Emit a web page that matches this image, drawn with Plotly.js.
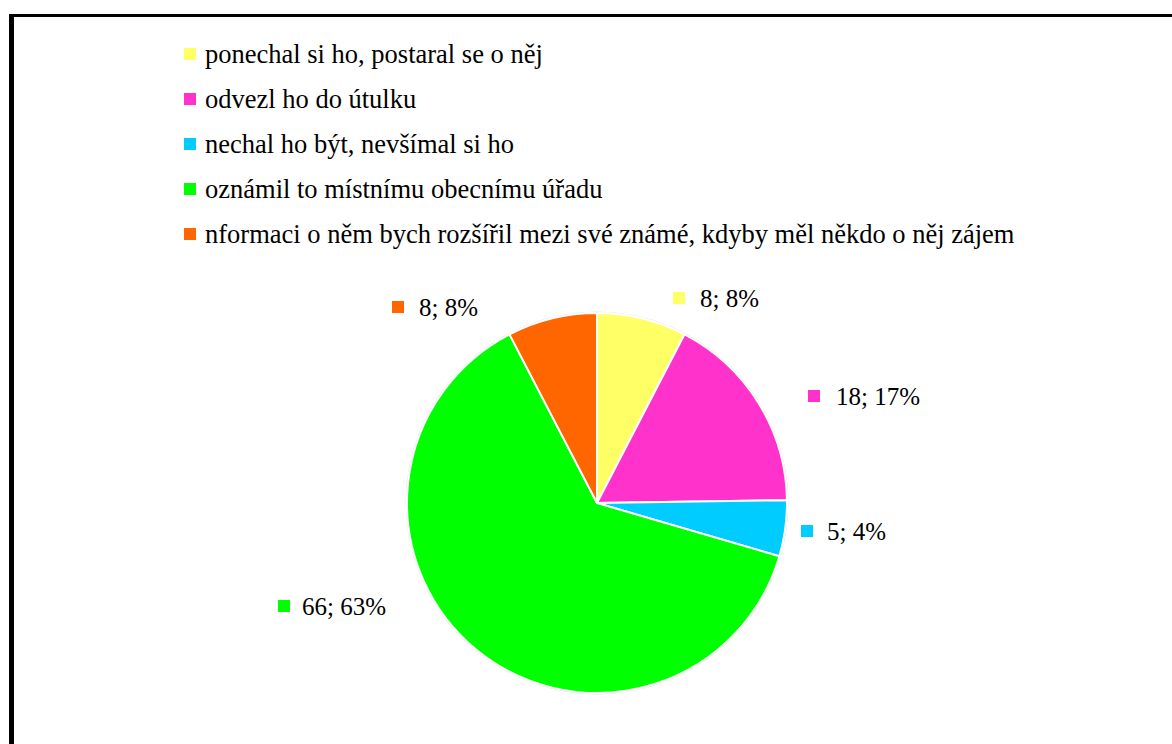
<!DOCTYPE html>
<html>
<head>
<meta charset="utf-8">
<script src="https://cdn.plot.ly/plotly-3.0.1.min.js"></script>
<style>html,body{margin:0;padding:0;background:#fff;overflow:hidden}#chart{width:1172px;height:744px}</style>
</head>
<body>
<div id="chart"></div>
<script>
// Data
const categories = [
  "ponechal si ho, postaral se o něj",
  "odvezl ho do útulku",
  "nechal ho být, nevšímal si ho",
  "oznámil to místnímu obecnímu úřadu",
  "nformaci o něm bych rozšířil mezi své známé, kdyby měl někdo o něj zájem"
];
const values = [8, 18, 5, 66, 8];
const percentLabels = ["8%", "17%", "4%", "63%", "8%"];
const colors = ["#FFFF66", "#FF33CC", "#00CCFF", "#00FF00", "#FF6600"];

// Layout helpers (pixel -> paper)
const W = 1172, H = 744;
const px = x => x / W;
const py = y => 1 - y / H;

// Style/position constants
const FONT = "Liberation Serif";
const legendX = 184, legendTextX = 203, legendY0 = 54, legendStep = 45, sq = 12;
const labelPos = [
  {sx: 673, tx: 698, y: 298},
  {sx: 808, tx: 834, y: 396},
  {sx: 801, tx: 825, y: 531},
  {sx: 278, tx: 300, y: 606},
  {sx: 392, tx: 417, y: 307}
];

const shapes = [];
const annotations = [];

// border
shapes.push({type: "rect", xref: "paper", yref: "paper", x0: px(9), x1: px(14), y0: py(H + 5), y1: py(14), fillcolor: "#000", line: {width: 0}, layer: "above"});
shapes.push({type: "rect", xref: "paper", yref: "paper", x0: px(9), x1: px(W + 5), y0: py(17), y1: py(14), fillcolor: "#000", line: {width: 0}, layer: "above"});

// legend
categories.forEach((c, i) => {
  const cy = legendY0 + i * legendStep;
  shapes.push({type: "rect", xref: "paper", yref: "paper",
    x0: px(legendX), x1: px(legendX + sq), y0: py(cy + sq / 2), y1: py(cy - sq / 2),
    fillcolor: colors[i], line: {width: 0}});
  annotations.push({xref: "paper", yref: "paper", x: px(legendTextX), y: py(cy),
    xanchor: "left", yanchor: "middle", showarrow: false, text: c,
    font: {family: FONT, size: 26.5, color: "#000"}});
});

// data labels
values.forEach((v, i) => {
  const p = labelPos[i];
  shapes.push({type: "rect", xref: "paper", yref: "paper",
    x0: px(p.sx), x1: px(p.sx + sq), y0: py(p.y + sq / 2), y1: py(p.y - sq / 2),
    fillcolor: colors[i], line: {width: 0}});
  annotations.push({xref: "paper", yref: "paper", x: px(p.tx), y: py(p.y),
    xanchor: "left", yanchor: "middle", showarrow: false,
    text: v + "; " + percentLabels[i],
    font: {family: FONT, size: 25, color: "#000"}});
});

const cx = 597, cyc = 503, R = 190;
// faint outer edge like the reference
shapes.push({type: "circle", xref: "paper", yref: "paper",
  x0: px(cx - R - 1), x1: px(cx + R + 1), y0: py(cyc + R + 1), y1: py(cyc - R - 1),
  line: {color: "#e4e4e4", width: 1}, fillcolor: "rgba(0,0,0,0)", layer: "below"});

const trace = {
  type: "pie",
  labels: categories,
  values: values,
  sort: false,
  direction: "clockwise",
  rotation: 0,
  marker: {colors: colors, line: {color: "#ffffff", width: 2}},
  textinfo: "none",
  hoverinfo: "label+value+percent",
  showlegend: false,
  domain: {x: [px(cx - R), px(cx + R)], y: [py(cyc + R), py(cyc - R)]}
};

const layout = {
  width: W, height: H,
  margin: {l: 0, r: 0, t: 0, b: 0},
  paper_bgcolor: "#fff",
  font: {family: FONT},
  showlegend: false,
  shapes: shapes,
  annotations: annotations
};

Plotly.newPlot("chart", [trace], layout, {displayModeBar: false, staticPlot: true});
</script>
</body>
</html>
